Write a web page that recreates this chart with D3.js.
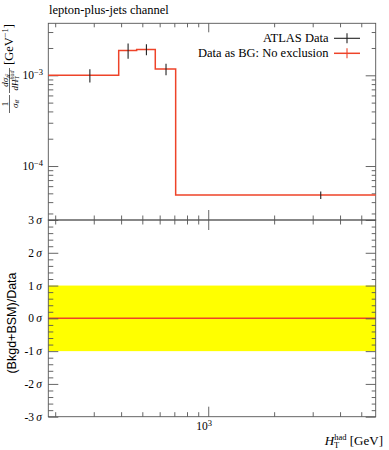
<!DOCTYPE html>
<html><head><meta charset="utf-8">
<script src="https://cdn.jsdelivr.net/npm/d3@7"></script>
<style>
body{margin:0;background:#fff}
svg{display:block}
text{font-family:"Liberation Serif","DejaVu Serif",serif;fill:#000}
</style>
</head><body><svg id="c" width="389" height="450"></svg>
<script>
// ---- data ----
const binEdges   = [186, 390, 471, 573, 710, 5820];
const dataValues = [1.00e-3, 1.88e-3, 1.93e-3, 1.17e-3, 4.79e-5];
const dataErrors = [0.165e-3, 0.36e-3, 0.27e-3, 0.17e-3, 0.45e-5];
const bgValues   = [1.00e-3, 1.88e-3, 1.93e-3, 1.17e-3, 4.79e-5];
const ratioValues = [0, 0, 0, 0, 0];
const xTickMajor = [1000];
const xTickMinor = [200, 300, 400, 500, 600, 700, 800, 900, 2000, 3000, 4000, 5000];
const yMainMajor = [1e-4, 1e-3];
const yMainMinor = [3e-5, 4e-5, 5e-5, 6e-5, 7e-5, 8e-5, 9e-5, 2e-4, 3e-4, 4e-4, 5e-4, 6e-4, 7e-4, 8e-4, 9e-4, 2e-3, 3e-3];
const ratioMajor = [-3, -2, -1, 0, 1, 2, 3];
const legendLabels = ["ATLAS Data", "Data as BG: No exclusion"];
const titleText = "lepton-plus-jets channel";

// ---- layout ----
const L = 48.3, R = 375.7, T = 23.3, M = 220, B = 416.7;
const svg = d3.select("#c");
const red = "#ee4329", axisCol = "#555";

const x = d3.scaleLog().domain([binEdges[0], binEdges[binEdges.length - 1]]).range([L, R]);
const yMain = d3.scaleLog().domain([Math.pow(10, -4.595), Math.pow(10, -2.4267)]).range([M, T]);
const yR = d3.scaleLinear().domain([-3, 3]).range([B, M]);

// ratio band
svg.append("rect").attr("x", L).attr("y", yR(1)).attr("width", R - L).attr("height", yR(-1) - yR(1)).attr("fill", "#ffff00");
// ratio line
const ratioPts = ratioValues.map((v, i) => [binEdges[i], v]).concat([[binEdges[binEdges.length - 1], ratioValues[ratioValues.length - 1]]]);
svg.append("path").attr("d", d3.line().x(d => x(d[0])).y(d => yR(d[1])).curve(d3.curveStepAfter)(ratioPts))
  .attr("fill", "none").attr("stroke", red).attr("stroke-width", 1.5);

// ---- axes / ticks ----
function ax(gen, tx, ty) {
  const g = svg.append("g").attr("transform", `translate(${tx},${ty})`).call(gen);
  g.select(".domain").remove();
  g.selectAll("line").attr("stroke", axisCol).attr("stroke-width", 0.9);
  g.selectAll("text").remove();
  return g;
}
// x ticks
ax(d3.axisTop(x).tickValues(xTickMinor).tickSize(-4).tickFormat(""), 0, T);
ax(d3.axisTop(x).tickValues(xTickMajor).tickSize(-9).tickFormat(""), 0, T);
ax(d3.axisBottom(x).tickValues(xTickMinor).tickSize(-4.5).tickFormat(""), 0, M);
ax(d3.axisTop(x).tickValues(xTickMinor).tickSize(-4.5).tickFormat(""), 0, M);
ax(d3.axisBottom(x).tickValues(xTickMajor).tickSize(-10).tickFormat(""), 0, M);
ax(d3.axisTop(x).tickValues(xTickMajor).tickSize(-10).tickFormat(""), 0, M);
ax(d3.axisBottom(x).tickValues(xTickMinor).tickSize(-4.5).tickFormat(""), 0, B);
ax(d3.axisBottom(x).tickValues(xTickMajor).tickSize(-10).tickFormat(""), 0, B);
// main y ticks
ax(d3.axisLeft(yMain).tickValues(yMainMinor).tickSize(-5).tickFormat(""), L, 0);
ax(d3.axisLeft(yMain).tickValues(yMainMajor).tickSize(-10).tickFormat(""), L, 0);
ax(d3.axisRight(yMain).tickValues(yMainMinor).tickSize(-4).tickFormat(""), R, 0);
ax(d3.axisRight(yMain).tickValues(yMainMajor).tickSize(-10).tickFormat(""), R, 0);
// ratio y ticks
const ratioMinor = d3.range(-3, 3.0001, 0.2).filter(v => Math.abs(v - Math.round(v)) > 1e-6);
ax(d3.axisLeft(yR).tickValues(ratioMinor).tickSize(-5).tickFormat(""), L, 0);
ax(d3.axisLeft(yR).tickValues(ratioMajor).tickSize(-10).tickFormat(""), L, 0);
ax(d3.axisRight(yR).tickValues(ratioMinor).tickSize(-4).tickFormat(""), R, 0);
ax(d3.axisRight(yR).tickValues(ratioMajor).tickSize(-10).tickFormat(""), R, 0);

// frames
svg.append("rect").attr("x", L).attr("y", T).attr("width", R - L).attr("height", M - T).attr("fill", "none").attr("stroke", axisCol).attr("stroke-width", 0.9);
svg.append("rect").attr("x", L).attr("y", M).attr("width", R - L).attr("height", B - M).attr("fill", "none").attr("stroke", axisCol).attr("stroke-width", 0.9);

// ---- histogram ----
const histPts = bgValues.map((v, i) => [binEdges[i], v]).concat([[binEdges[binEdges.length - 1], bgValues[bgValues.length - 1]]]);
svg.append("path").attr("d", d3.line().x(d => x(d[0])).y(d => yMain(d[1])).curve(d3.curveStepAfter)(histPts))
  .attr("fill", "none").attr("stroke", red).attr("stroke-width", 1.5);

// data error bars
dataValues.forEach((v, i) => {
  const cx = x((binEdges[i] + binEdges[i + 1]) / 2);
  svg.append("line").attr("x1", cx).attr("x2", cx)
    .attr("y1", yMain(v + dataErrors[i])).attr("y2", yMain(v - dataErrors[i]))
    .attr("stroke", "#222").attr("stroke-width", 1.1);
});

// ---- labels ----
svg.append("text").attr("x", 49).attr("y", 14).attr("font-size", 12.5).text(titleText);

// main y tick labels
yMainMajor.forEach(v => {
  const t = svg.append("text").attr("x", 43).attr("y", yMain(v) + 4).attr("text-anchor", "end").attr("font-size", 11.5);
  t.append("tspan").text("10");
  t.append("tspan").attr("dy", -4.5).attr("font-size", 8.5).text("−" + Math.round(-Math.log10(v)));
});
// ratio tick labels
ratioMajor.forEach(v => {
  const t = svg.append("text").attr("x", 42).attr("y", yR(v) + 4).attr("text-anchor", "end").attr("font-size", 11.5);
  t.append("tspan").text((v < 0 ? "-" : "") + Math.abs(v) + "\u2009");
  t.append("tspan").attr("font-style", "italic").text("σ");
});
// x tick labels
xTickMajor.forEach(v => {
  const t = svg.append("text").attr("x", x(v) - 4).attr("y", 430).attr("text-anchor", "middle").attr("font-size", 11.5);
  t.append("tspan").text("10");
  t.append("tspan").attr("dy", -4.5).attr("font-size", 8.5).text(String(Math.round(Math.log10(v))));
});
// x axis label
{
  const t = svg.append("text").attr("x", 383).attr("y", 445).attr("text-anchor", "end").attr("font-size", 13);
  t.append("tspan").attr("font-style", "italic").text("H");
  t.append("tspan").attr("font-size", 8.5).attr("dy", 3).text("T");
  t.append("tspan").attr("font-size", 8.5).attr("dy", -8.5).attr("dx", -5).text("had");
  t.append("tspan").attr("dy", 5.5).text(" [GeV]");
}
// ratio y label
svg.append("text").attr("transform", `translate(16,${323}) rotate(-90)`).attr("text-anchor", "middle")
  .attr("font-size", 12.5).style("font-family", "'Liberation Sans',Arial,sans-serif").text("(Bkgd+BSM)/Data");

// main y label
{
  const g = svg.append("g").attr("transform", "translate(9.5,114) rotate(-90)");
  // fraction 1
  g.append("text").attr("x", 10).attr("y", -1.5).attr("text-anchor", "middle").attr("font-size", 9).text("1");
  const d1 = g.append("text").attr("x", 10).attr("y", 8).attr("text-anchor", "middle").attr("font-size", 9);
  d1.append("tspan").attr("font-style", "italic").text("σ");
  d1.append("tspan").attr("font-size", 6.5).attr("font-style", "italic").attr("dy", 1.5).text("tt\u0304");
  g.append("line").attr("x1", 1).attr("x2", 19).attr("y1", 0).attr("y2", 0).attr("stroke", "#000").attr("stroke-width", 0.6);
  // fraction 2
  const n2 = g.append("text").attr("x", 33.5).attr("y", -1.5).attr("text-anchor", "middle").attr("font-size", 9);
  n2.append("tspan").attr("font-style", "italic").text("dσ");
  n2.append("tspan").attr("font-size", 6.5).attr("font-style", "italic").attr("dy", 1.5).text("tt\u0304");
  const d2 = g.append("text").attr("x", 33.5).attr("y", 8).attr("text-anchor", "middle").attr("font-size", 9);
  d2.append("tspan").attr("font-style", "italic").text("dH");
  d2.append("tspan").attr("font-size", 6).attr("dy", 1.5).text("T");
  d2.append("tspan").attr("font-size", 6).attr("dy", -5.5).attr("dx", -3.5).attr("font-style", "italic").text("had");
  g.append("line").attr("x1", 21).attr("x2", 46).attr("y1", 0).attr("y2", 0).attr("stroke", "#000").attr("stroke-width", 0.6);
  // units
  const u = g.append("text").attr("x", 49).attr("y", 3.5).attr("font-size", 12.5);
  u.append("tspan").text("[GeV");
  u.append("tspan").attr("font-size", 8.5).attr("dy", -5).text("−1");
  u.append("tspan").attr("dy", 5).text("]");
}

// ---- legend ----
legendLabels.forEach((lab, i) => {
  const cy = 38.3 + i * 15;
  svg.append("text").attr("x", 328.5).attr("y", cy + 4).attr("text-anchor", "end").attr("font-size", 12.5).text(lab);
  const col = i === 0 ? "#222" : red;
  svg.append("line").attr("x1", 334).attr("x2", 360).attr("y1", cy).attr("y2", cy).attr("stroke", col).attr("stroke-width", i === 0 ? 1.1 : 1.5);
  svg.append("line").attr("x1", 347).attr("x2", 347).attr("y1", cy - 5).attr("y2", cy + 5).attr("stroke", col).attr("stroke-width", 1.1);
});
</script>
</body></html>
